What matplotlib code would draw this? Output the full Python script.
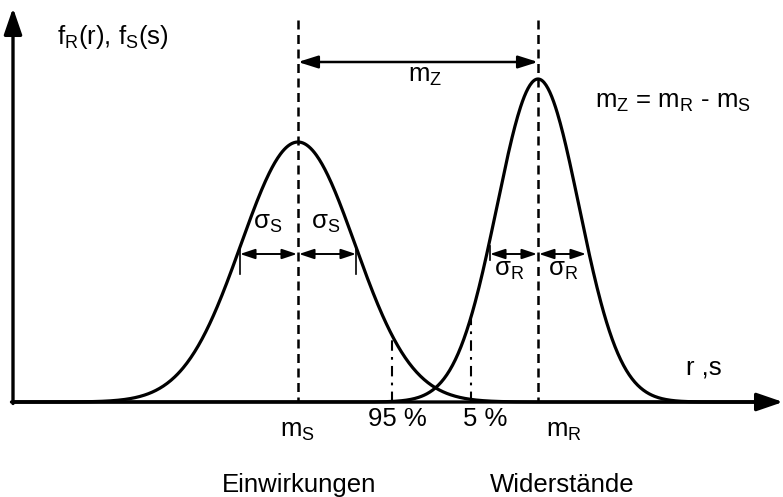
import numpy as np
import matplotlib.pyplot as plt

plt.rcParams['font.family'] = ['Liberation Sans', 'DejaVu Sans']
plt.rcParams['mathtext.fontset'] = 'custom'
plt.rcParams['mathtext.rm'] = 'Liberation Sans'
plt.rcParams['mathtext.it'] = 'Liberation Sans'

# schematic in pixel units (y grows downward, baseline = x axis)
baseline = 402
axis_x = 13

# Einwirkungen (S) and Widerstaende (R)
mean_s, sigma_s, peak_s = 298, 57, 260
mean_r, sigma_r, peak_r = 538, 41, 323
q_s, q_r = 1.645, -1.645          # 95 % / 5 % fractiles in sigma
arrow_half_s, arrow_half_r = 58, 48
sigma_arrow_y = 254
mz_arrow_y = 62

labels_bottom = ['$\\mathregular{m_S}$', '95 %', '5 %', '$\\mathregular{m_R}$']
groups = ['Einwirkungen', 'Widerstände']


def density(x, m, s, peak):
    return baseline - peak * np.exp(-0.5 * ((x - m) / s) ** 2)


fig = plt.figure(figsize=(7.83, 4.97), dpi=100)
ax = fig.add_axes([0, 0, 1, 1])
ax.set_xlim(0, 783)
ax.set_ylim(497, 0)
ax.axis('off')

# axes with arrows
ax.annotate('', xy=(783, baseline), xytext=(axis_x - 1.5, baseline),
            arrowprops=dict(arrowstyle='-|>,head_length=1.6,head_width=0.55',
                            lw=2.4, color='black', shrinkA=0, shrinkB=0))
ax.annotate('', xy=(axis_x, 8), xytext=(axis_x, baseline + 1.5),
            arrowprops=dict(arrowstyle='-|>,head_length=1.6,head_width=0.55',
                            lw=2.4, color='black', shrinkA=0, shrinkB=0))

x = np.linspace(axis_x + 2, 770, 800)
ax.plot(x, density(x, mean_s, sigma_s, peak_s), color='black', lw=2.3)
ax.plot(x, density(x, mean_r, sigma_r, peak_r), color='black', lw=2.3)

# mean lines
for m in (mean_s, mean_r):
    ax.plot([m, m], [20, baseline], color='black', lw=1.8, ls=(0, (3.6, 2.2)))

# fractile lines
x95 = mean_s + q_s * sigma_s
x05 = mean_r + q_r * sigma_r
for xf, m, s, p in ((x95, mean_s, sigma_s, peak_s), (x05, mean_r, sigma_r, peak_r)):
    ax.plot([xf, xf], [baseline, density(xf, m, s, p)], color='black', lw=1.5,
            ls=(0, (5, 3, 1.3, 3)))

# sigma arrows
aprops = dict(arrowstyle='<|-|>,head_length=0.9,head_width=0.3', lw=1.4,
              color='black', shrinkA=0, shrinkB=0)
for m, h in ((mean_s, arrow_half_s), (mean_r, arrow_half_r)):
    ax.annotate('', xy=(m - h, sigma_arrow_y), xytext=(m - 1, sigma_arrow_y), arrowprops=aprops)
    ax.annotate('', xy=(m + h, sigma_arrow_y), xytext=(m + 1, sigma_arrow_y), arrowprops=aprops)
for xt in (mean_s - arrow_half_s, mean_s + arrow_half_s):
    ax.plot([xt, xt], [sigma_arrow_y - 6, sigma_arrow_y + 20], color='black', lw=1.2)
ax.plot([mean_r - arrow_half_r] * 2, [sigma_arrow_y - 8, sigma_arrow_y + 6], color='black', lw=1.2)

# m_Z arrow
ax.annotate('', xy=(mean_s, mz_arrow_y), xytext=(mean_r, mz_arrow_y),
            arrowprops=dict(arrowstyle='<|-|>,head_length=1.2,head_width=0.38', lw=1.8,
                            color='black', shrinkA=0, shrinkB=0))

fs = 18.5
ax.text(57, 37, '$\\mathregular{f_R}$(r), $\\mathregular{f_S}$(s)', fontsize=fs, va='center', ha='left')
ax.text(425, 76, '$\\mathregular{m_Z}$', fontsize=fs, va='center', ha='center')
ax.text(595, 102, '$\\mathregular{m_Z}$ = $\\mathregular{m_R}$ - $\\mathregular{m_S}$', fontsize=fs,
        va='center', ha='left')
ax.text(268, 223, '$\\mathregular{\\sigma_S}$', fontsize=fs, va='center', ha='center')
ax.text(326, 223, '$\\mathregular{\\sigma_S}$', fontsize=fs, va='center', ha='center')
ax.text(509, 270, '$\\mathregular{\\sigma_R}$', fontsize=fs, va='center', ha='center')
ax.text(563, 270, '$\\mathregular{\\sigma_R}$', fontsize=fs, va='center', ha='center')
ax.text(704, 368, 'r ,s', fontsize=fs, va='center', ha='center')

for lab, xp, yp in zip(labels_bottom, (297, 397, 485, 564), (431, 419, 419, 431)):
    ax.text(xp, yp, lab, fontsize=fs, va='center', ha='center')
for lab, xp in zip(groups, (299, 562)):
    ax.text(xp, 485, lab, fontsize=fs, va='center', ha='center')

fig.savefig('out.png', dpi=100)
